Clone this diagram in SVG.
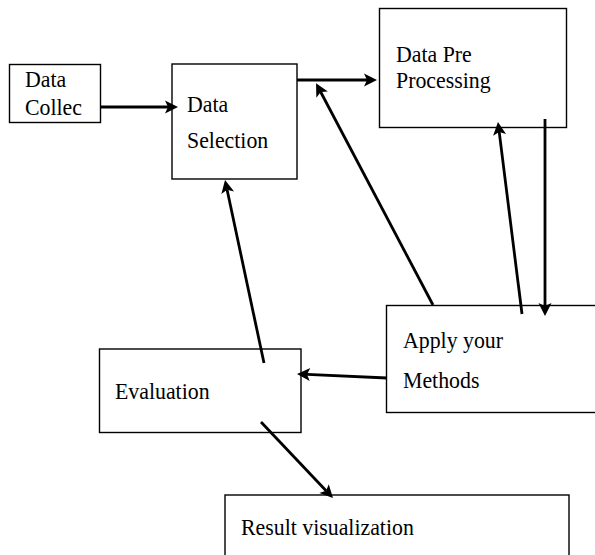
<svg xmlns="http://www.w3.org/2000/svg" width="595" height="555" viewBox="0 0 595 555">
<style>
.box{fill:#fff;stroke:#000;stroke-width:1.4}
.lbl{font-family:"Liberation Serif","Times New Roman",serif;font-size:24px;fill:#000}
.arr{stroke:#000;stroke-width:2.8;fill:none;marker-end:url(#ah)}
</style>
<defs>
<marker id="ah" markerUnits="userSpaceOnUse" markerWidth="14" markerHeight="13" refX="3" refY="6.5" orient="auto" overflow="visible">
<path d="M0,0 L13,6.5 L0,13 L3,6.5 z" fill="#000"/>
</marker>
</defs>
<rect width="595" height="555" fill="#fff"/>
<g id="collect">
<rect class="box" x="9.5" y="64.5" width="91" height="58"/>
<text class="lbl" transform="translate(25,87) scale(0.91,1)">Data</text>
<text class="lbl" transform="translate(25,115) scale(0.91,1)">Collec</text>
</g>
<g id="selection">
<rect class="box" x="172" y="64" width="125" height="115"/>
<text class="lbl" transform="translate(187,112) scale(0.91,1)">Data</text>
<text class="lbl" transform="translate(187,148) scale(0.91,1)">Selection</text>
</g>
<g id="preprocessing">
<rect class="box" x="379.5" y="8.5" width="187" height="119"/>
<text class="lbl" transform="translate(396,62) scale(0.91,1)">Data Pre</text>
<text class="lbl" transform="translate(396,88) scale(0.91,1)">Processing</text>
</g>
<g id="apply">
<rect class="box" x="386.5" y="305.5" width="230" height="107"/>
<text class="lbl" transform="translate(403,348) scale(0.91,1)">Apply your</text>
<text class="lbl" transform="translate(403,388) scale(0.91,1)">Methods</text>
</g>
<g id="evaluation">
<rect class="box" x="99.5" y="349" width="201.5" height="83.5"/>
<text class="lbl" transform="translate(115,399) scale(0.91,1)">Evaluation</text>
</g>
<g id="result">
<rect class="box" x="225" y="495" width="344" height="70"/>
<text class="lbl" transform="translate(241,535) scale(0.91,1)">Result visualization</text>
</g>
<g id="connectors">
<line class="arr" x1="100" y1="107" x2="168" y2="107"/>
<line class="arr" x1="297" y1="80" x2="367" y2="80"/>
<line class="arr" x1="433" y1="305" x2="320.7" y2="92"/>
<line class="arr" x1="522" y1="314" x2="499.2" y2="131.9"/>
<line class="arr" x1="545" y1="119" x2="545" y2="306"/>
<line class="arr" x1="387" y1="378" x2="307" y2="374.4"/>
<line class="arr" x1="264" y1="363" x2="227.1" y2="189.8"/>
<line class="arr" x1="261" y1="422" x2="326.1" y2="490.8"/>
</g>
</svg>
